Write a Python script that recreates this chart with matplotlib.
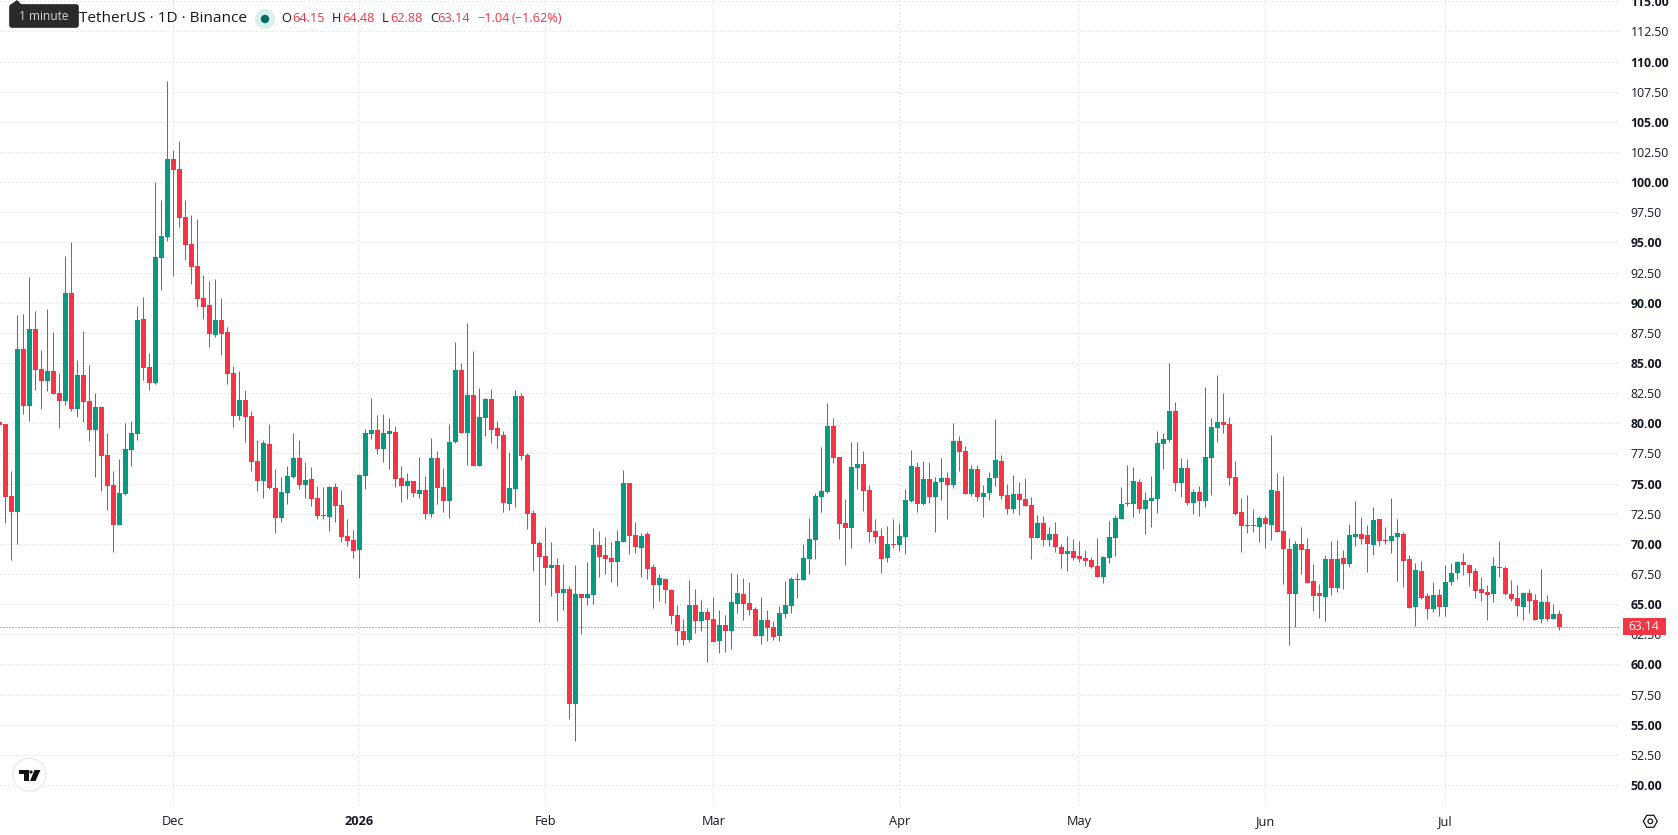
import matplotlib
matplotlib.use("Agg")
import matplotlib.dates as mdates
import matplotlib.pyplot as plt
import pandas as pd
from matplotlib.patches import Circle, FancyBboxPatch, Polygon, Rectangle

WIDTH, HEIGHT = 1678, 835
UP_COLOR = "#089981"
DOWN_COLOR = "#f23645"
TEXT_COLOR = "#131722"
GRID_COLOR = "#d2d2d2"

plt.rcParams["font.family"] = ["Open Sans", "DejaVu Sans"]

# Daily OHLC candles, ten days per line
first_day = "2025-11-02"
opens = [
    80.10, 79.94, 73.97, 72.67, 86.16, 81.46, 87.82, 84.50, 83.53, 84.34,
    82.51, 81.87, 90.80, 81.18, 84.00, 81.85, 79.47, 81.35, 77.37, 74.88,
    71.59, 74.16, 77.78, 79.14, 88.65, 84.67, 83.37, 93.71, 95.48, 101.92,
    101.09, 97.11, 94.87, 93.04, 90.39, 89.81, 87.32, 88.57, 87.57, 84.17,
    80.63, 81.93, 80.60, 76.87, 75.24, 78.28, 74.63, 72.17, 74.22, 75.54,
    77.12, 74.88, 75.38, 73.80, 72.39, 72.23, 74.71, 73.22, 70.65, 70.32,
    69.49, 75.63, 79.11, 79.44, 77.87, 79.11, 79.28, 75.46, 74.80, 75.21,
    74.13, 74.47, 72.48, 77.12, 74.71, 73.55, 78.45, 84.42, 79.19, 82.35,
    76.46, 80.44, 82.01, 79.61, 79.03, 73.30, 74.55, 82.26, 77.37, 72.56,
    70.07, 68.99, 68.00, 68.25, 65.92, 66.26, 56.72, 65.84, 65.51, 65.76,
    69.90, 69.08, 68.83, 68.50, 70.15, 75.05, 70.73, 69.66, 70.82, 68.08,
    66.59, 67.09, 66.17, 64.10, 62.77, 62.03, 64.93, 63.60, 64.35, 63.77,
    61.94, 63.27, 62.77, 65.01, 65.84, 65.09, 64.60, 62.36, 63.68, 63.10,
    62.36, 64.18, 64.85, 67.00, 67.00, 68.74, 70.32, 73.89, 74.30, 79.78,
    77.20, 71.73, 71.32, 76.29, 76.62, 74.47, 71.07, 70.65, 68.83, 69.99,
    69.90, 70.57, 73.55, 76.38, 73.31, 75.38, 73.89, 75.13, 75.46, 74.88,
    78.53, 77.70, 74.14, 76.21, 73.89, 74.22, 75.46, 76.87, 74.05, 72.89,
    74.14, 73.72, 73.22, 70.48, 71.73, 70.32, 70.82, 69.74, 69.16, 69.41,
    68.99, 68.83, 68.66, 68.16, 67.25, 68.83, 70.49, 72.06, 73.30, 73.30,
    75.13, 72.89, 73.55, 73.72, 78.28, 78.61, 81.02, 75.05, 76.29, 73.39,
    74.30, 73.55, 77.12, 79.61, 80.11, 79.94, 75.54, 72.64, 71.56, 71.56,
    71.40, 72.14, 71.56, 74.39, 71.07, 69.57, 65.84, 69.99, 69.57, 66.92,
    65.92, 65.59, 68.74, 66.34, 68.83, 68.33, 70.57, 70.82, 70.74, 69.91,
    72.06, 70.32, 70.24, 70.57, 70.82, 68.74, 64.76, 67.75, 65.68, 64.60,
    65.76, 64.76, 66.84, 67.58, 68.50, 68.25, 67.75, 66.26, 66.01, 65.84,
    68.08, 68.00, 65.84, 65.51, 64.76, 65.92, 65.34, 63.77, 65.18, 63.77, 64.15,
]
highs = [
    80.30, 79.94, 76.04, 88.98, 89.06, 92.13, 89.31, 86.08, 89.48, 87.57,
    84.17, 93.87, 95.03, 85.25, 87.65, 84.83, 82.51, 81.43, 79.19, 76.04,
    77.04, 80.02, 80.19, 89.73, 90.47, 85.83, 100.01, 98.52, 108.39, 102.66,
    103.41, 98.52, 97.27, 96.94, 92.30, 91.80, 91.97, 90.39, 87.98, 84.75,
    84.34, 82.76, 81.02, 78.61, 78.61, 79.94, 76.21, 75.54, 76.46, 79.19,
    78.61, 76.79, 76.37, 74.80, 74.71, 74.80, 75.05, 74.47, 72.06, 71.15,
    75.79, 79.53, 82.10, 80.69, 80.77, 80.44, 79.77, 76.46, 75.87, 75.21,
    77.20, 75.63, 78.78, 77.70, 76.29, 79.94, 86.74, 84.99, 88.32, 85.99,
    82.93, 82.10, 82.84, 80.19, 79.36, 77.62, 82.76, 82.51, 77.53, 72.81,
    70.24, 71.40, 70.15, 68.83, 68.33, 66.50, 68.25, 65.84, 68.50, 71.31,
    71.07, 70.57, 70.15, 71.15, 76.13, 75.05, 71.81, 70.90, 70.98, 68.33,
    67.50, 67.17, 66.26, 64.93, 63.77, 67.00, 66.26, 65.34, 64.68, 65.59,
    64.51, 64.10, 67.58, 67.50, 67.17, 66.84, 64.76, 65.59, 64.51, 63.60,
    64.85, 66.92, 67.25, 67.58, 69.99, 72.14, 74.22, 78.03, 81.68, 80.44,
    77.20, 73.72, 78.45, 78.45, 77.70, 74.88, 72.06, 71.32, 71.48, 72.06,
    71.73, 74.55, 77.79, 76.79, 76.87, 76.79, 75.55, 77.12, 75.96, 80.02,
    78.95, 78.11, 76.54, 76.54, 74.88, 75.96, 80.36, 77.37, 74.96, 75.71,
    75.13, 75.46, 73.89, 72.39, 72.31, 71.40, 71.81, 69.99, 70.65, 70.40,
    70.24, 69.49, 68.91, 70.49, 68.99, 71.90, 72.39, 74.72, 76.54, 76.37,
    75.38, 74.30, 75.63, 79.36, 79.19, 85.00, 81.77, 77.12, 77.04, 74.55,
    74.80, 83.01, 80.44, 84.00, 82.51, 80.52, 76.87, 73.80, 74.05, 72.89,
    72.31, 72.39, 79.03, 75.88, 75.63, 70.49, 70.24, 71.40, 70.49, 68.33,
    66.67, 69.08, 70.24, 70.32, 69.49, 71.65, 73.56, 72.23, 71.56, 73.06,
    72.06, 71.40, 73.80, 72.06, 70.98, 69.08, 68.41, 68.58, 65.92, 66.84,
    66.26, 68.25, 68.41, 68.58, 69.24, 68.33, 68.00, 67.25, 66.59, 68.91,
    70.24, 68.16, 67.00, 66.59, 66.01, 66.26, 65.84, 67.91, 65.76, 65.00, 64.48,
]
lows = [
    79.60, 71.76, 68.66, 70.00, 80.77, 80.22, 82.76, 81.18, 82.68, 82.45,
    79.61, 81.54, 81.04, 80.55, 80.11, 78.53, 75.57, 74.38, 72.81, 69.32,
    71.59, 74.05, 76.46, 78.61, 83.59, 82.76, 83.26, 91.05, 95.12, 92.21,
    96.28, 93.54, 91.55, 89.64, 88.65, 86.33, 87.15, 85.66, 83.26, 79.69,
    80.27, 78.45, 76.04, 74.38, 73.80, 74.55, 70.90, 71.81, 73.30, 75.46,
    74.55, 73.80, 73.14, 72.06, 72.06, 71.07, 71.81, 70.15, 69.82, 68.83,
    67.17, 74.55, 78.70, 77.45, 76.79, 76.21, 74.71, 73.47, 73.72, 73.89,
    73.80, 72.06, 72.23, 73.30, 72.64, 72.14, 78.37, 79.19, 76.54, 76.46,
    76.46, 78.94, 78.37, 77.95, 72.64, 72.81, 73.06, 76.95, 71.23, 67.75,
    63.52, 66.59, 65.67, 63.60, 64.51, 55.47, 53.65, 62.52, 64.93, 65.01,
    67.25, 67.50, 66.84, 66.50, 70.15, 69.16, 69.24, 67.25, 67.08, 64.68,
    65.26, 65.09, 63.35, 61.61, 61.61, 61.86, 62.61, 62.77, 60.20, 61.86,
    60.95, 61.03, 61.28, 64.26, 63.68, 64.10, 62.36, 61.69, 61.94, 62.03,
    61.94, 63.85, 64.26, 65.51, 67.00, 67.50, 68.74, 72.64, 74.22, 76.71,
    70.40, 68.25, 69.66, 74.55, 72.72, 70.15, 70.07, 67.58, 68.50, 69.66,
    69.41, 69.16, 73.47, 72.64, 73.22, 73.39, 70.98, 73.64, 72.06, 74.63,
    76.04, 74.14, 73.97, 73.55, 72.23, 73.64, 74.80, 73.72, 72.48, 72.56,
    72.39, 73.14, 68.74, 70.48, 69.82, 69.82, 69.32, 68.00, 67.75, 68.66,
    68.50, 68.16, 68.00, 67.25, 66.75, 68.41, 68.99, 72.06, 73.14, 72.23,
    72.56, 70.82, 71.40, 72.56, 76.21, 78.45, 74.39, 73.89, 73.22, 72.48,
    72.31, 73.06, 74.05, 78.45, 79.19, 74.88, 72.39, 69.32, 70.90, 70.98,
    70.15, 69.66, 70.32, 70.98, 66.67, 61.61, 63.10, 67.50, 66.75, 64.43,
    63.85, 63.60, 65.76, 66.01, 66.26, 68.08, 69.82, 69.99, 67.67, 69.08,
    69.82, 69.99, 69.24, 66.92, 66.42, 64.68, 63.19, 65.43, 63.77, 64.35,
    64.02, 64.02, 66.59, 67.09, 67.42, 66.50, 65.51, 65.26, 63.69, 65.18,
    67.25, 65.76, 65.26, 64.02, 63.69, 64.27, 63.69, 63.44, 63.60, 63.77, 62.88,
]
closes = [
    79.86, 73.91, 72.67, 86.16, 81.46, 87.82, 84.45, 83.53, 84.34, 82.45,
    81.87, 90.80, 81.18, 84.00, 81.79, 79.47, 81.35, 77.31, 74.82, 71.59,
    74.22, 77.87, 79.19, 88.57, 84.61, 83.37, 93.79, 95.53, 101.92, 101.03,
    97.05, 94.81, 92.99, 90.33, 89.67, 87.40, 88.57, 87.40, 84.11, 80.63,
    81.93, 80.55, 76.81, 75.24, 78.36, 74.66, 72.17, 74.30, 75.63, 77.12,
    74.91, 75.30, 73.72, 72.31, 72.31, 74.71, 73.14, 70.57, 70.24, 69.41,
    75.71, 79.19, 79.44, 77.87, 79.19, 79.36, 75.38, 74.80, 75.21, 74.22,
    74.47, 72.48, 77.12, 74.63, 73.55, 78.45, 84.42, 79.19, 82.35, 76.46,
    80.52, 82.01, 79.44, 78.94, 73.39, 74.63, 82.26, 77.29, 72.48, 69.99,
    68.91, 68.00, 68.25, 65.92, 66.26, 56.72, 65.84, 65.51, 65.84, 69.90,
    68.91, 68.74, 68.50, 70.24, 75.05, 70.65, 69.74, 70.65, 67.91, 66.59,
    67.17, 66.17, 64.02, 62.77, 62.03, 64.93, 63.60, 64.35, 63.68, 61.86,
    63.27, 62.77, 65.18, 65.92, 65.01, 64.51, 62.36, 63.68, 63.02, 62.27,
    64.26, 64.93, 67.09, 67.09, 68.83, 70.40, 73.97, 74.38, 79.78, 77.12,
    71.65, 71.32, 76.38, 76.62, 74.38, 70.98, 70.57, 68.74, 69.99, 69.90,
    70.65, 73.64, 76.46, 73.31, 75.38, 73.89, 75.13, 75.46, 74.88, 78.53,
    77.62, 74.14, 76.21, 73.89, 74.22, 75.46, 76.95, 73.97, 72.89, 74.14,
    73.64, 73.14, 70.48, 71.73, 70.32, 70.82, 69.74, 69.16, 69.41, 68.83,
    68.74, 68.58, 68.08, 67.25, 68.91, 70.57, 72.14, 73.30, 73.39, 75.21,
    72.89, 73.64, 73.80, 78.37, 78.70, 81.02, 75.05, 76.29, 73.39, 74.30,
    73.55, 77.20, 79.69, 80.11, 79.86, 75.46, 72.48, 71.48, 71.48, 71.48,
    72.14, 71.65, 74.47, 70.98, 69.57, 65.84, 69.99, 69.49, 66.75, 65.68,
    65.68, 68.74, 66.34, 68.74, 68.33, 70.74, 70.82, 70.40, 69.99, 71.98,
    70.24, 70.24, 70.65, 70.90, 68.58, 64.68, 67.83, 65.51, 64.60, 65.76,
    64.76, 66.84, 67.58, 68.50, 68.25, 67.58, 66.09, 65.92, 65.76, 68.16,
    68.00, 65.84, 65.43, 64.85, 65.92, 65.26, 63.69, 65.18, 63.77, 64.18, 63.14,
]

# Axis ticks
month_starts = ["2025-12-01", "2026-01-01", "2026-02-01", "2026-03-01",
                "2026-04-01", "2026-05-01", "2026-06-01", "2026-07-01"]
month_labels = ["Dec", "2026", "Feb", "Mar", "Apr", "May", "Jun", "Jul"]
price_ticks = [50 + 2.5 * i for i in range(27)]


def draw_candles(ax, x):
    for xi, o, h, l, c in zip(x, opens, highs, lows, closes):
        color = UP_COLOR if c >= o else DOWN_COLOR
        ax.vlines(xi, l, h, color=color, linewidth=0.72, zorder=3)
        # dojis still need a visible body
        ax.bar(xi, max(abs(c - o), 0.09), bottom=min(o, c), width=0.84,
               color=color, linewidth=0, zorder=4)


def draw_price_tag(ax, close):
    ax.axhline(close, color=DOWN_COLOR, linewidth=0.72, linestyle=(0, (1, 2)), zorder=2.6)
    tag = Rectangle((1.0016, close - 0.69), 0.0265, 1.38, transform=ax.get_yaxis_transform(),
                    facecolor=DOWN_COLOR, edgecolor="none", clip_on=False, zorder=6)
    ax.add_patch(tag)
    ax.text(1.0148, close, f"{close:.2f}", transform=ax.get_yaxis_transform(), color="white",
            fontsize=8.7, ha="center", va="center", zorder=7, clip_on=False)


def draw_header(ov):
    ov.text(79, 18, "TetherUS · 1D · Binance", fontsize=11.05, color=TEXT_COLOR, va="center")
    ov.add_patch(Circle((265, 19), 10, facecolor="#daf0ec", edgecolor="none"))
    ov.add_patch(Circle((265, 19), 4.2, facecolor="#006b5b", edgecolor="none"))

    # OHLC readout for the last candle
    pieces = [(281, "O", TEXT_COLOR), (292, f"{opens[-1]:.2f}", DOWN_COLOR),
              (332, "H", TEXT_COLOR), (342, f"{highs[-1]:.2f}", DOWN_COLOR),
              (382, "L", TEXT_COLOR), (390, f"{lows[-1]:.2f}", DOWN_COLOR),
              (430, "C", TEXT_COLOR), (437, f"{closes[-1]:.2f}", DOWN_COLOR),
              (477, "−1.04", DOWN_COLOR), (511, "(−1.62%)", DOWN_COLOR)]
    for px, label, color in pieces:
        ov.text(px, 18.5, label, fontsize=9.2, color=color, va="center")

    # hover tooltip sits over the start of the title
    ov.add_patch(FancyBboxPatch((10, 5), 68, 22, boxstyle="round,pad=0,rounding_size=2",
                                facecolor="#2a2a2a", edgecolor="#2a2a2a", linewidth=1.2, zorder=5))
    ov.add_patch(Polygon([(10, 5), (17, 0), (22, 5)], facecolor="#2a2a2a", edgecolor="none", zorder=5))
    ov.text(44, 17, "1 minute", fontsize=8.6, color="#d4d4d4", ha="center", va="center", zorder=6)


def draw_logo(ov):
    ov.add_patch(Circle((29.3, 774.7), 16.5, facecolor="white", edgecolor="#ececec", linewidth=1.2))
    ov.add_patch(Polygon([(19, 770), (29, 770), (29, 781), (24, 781), (24, 773.5), (19, 773.5)],
                         facecolor="#131313", edgecolor="none"))
    ov.add_patch(Circle((31, 772), 1.6, facecolor="#131313", edgecolor="none"))
    ov.add_patch(Polygon([(34.5, 770), (40.5, 770), (35.5, 781), (30, 781)],
                         facecolor="#131313", edgecolor="none"))


def draw_settings_icon(ov):
    cx, cy = 1650.3, 821.3
    hexagon = [(cx - 7, cy), (cx - 3.5, cy - 6), (cx + 3.5, cy - 6),
               (cx + 7, cy), (cx + 3.5, cy + 6), (cx - 3.5, cy + 6)]
    ov.add_patch(Polygon(hexagon, closed=True, facecolor="none", edgecolor=TEXT_COLOR, linewidth=0.9))
    ov.add_patch(Circle((cx, cy), 2.3, facecolor="none", edgecolor=TEXT_COLOR, linewidth=0.9))


def main():
    fig = plt.figure(figsize=(WIDTH / 100, HEIGHT / 100), dpi=100, facecolor="white")
    ax = fig.add_axes([0, 30 / HEIGHT, 1620 / WIDTH, 805 / HEIGHT])

    x = mdates.date2num(pd.date_range(first_day, periods=len(closes)))
    dec_first = mdates.date2num(pd.Timestamp(month_starts[0]))
    ax.set_xlim(dec_first - 28.88, dec_first + 241.12)
    ax.set_ylim(48.34, 115.11)

    draw_candles(ax, x)
    draw_price_tag(ax, closes[-1])

    ax.set_xticks(mdates.date2num(pd.to_datetime(month_starts)))
    ax.set_xticklabels(month_labels, fontsize=9.2, color=TEXT_COLOR)
    ax.xaxis.get_ticklabels()[1].set_fontweight("bold")
    ax.tick_params(axis="x", length=0, pad=7)

    ax.yaxis.tick_right()
    ax.set_yticks(price_ticks)
    ax.set_yticklabels([f"{p:.2f}" for p in price_ticks], fontsize=8.8, color=TEXT_COLOR)
    ax.tick_params(axis="y", length=0, pad=7.7)
    for label, p in zip(ax.yaxis.get_ticklabels(), price_ticks):
        if p % 5 == 0:
            label.set_fontweight("bold")

    ax.grid(True, color=GRID_COLOR, linewidth=0.72, linestyle=(0, (1, 3)))
    ax.set_axisbelow(True)
    for spine in ax.spines.values():
        spine.set_visible(False)

    # pixel-addressed layer for the header and the corner icons
    ov = fig.add_axes([0, 0, 1, 1], facecolor="none")
    ov.set_xlim(0, WIDTH)
    ov.set_ylim(HEIGHT, 0)
    ov.axis("off")
    draw_header(ov)
    draw_logo(ov)
    draw_settings_icon(ov)

    fig.savefig("out.png", dpi=100, facecolor="white")
    plt.close(fig)


if __name__ == "__main__":
    main()
